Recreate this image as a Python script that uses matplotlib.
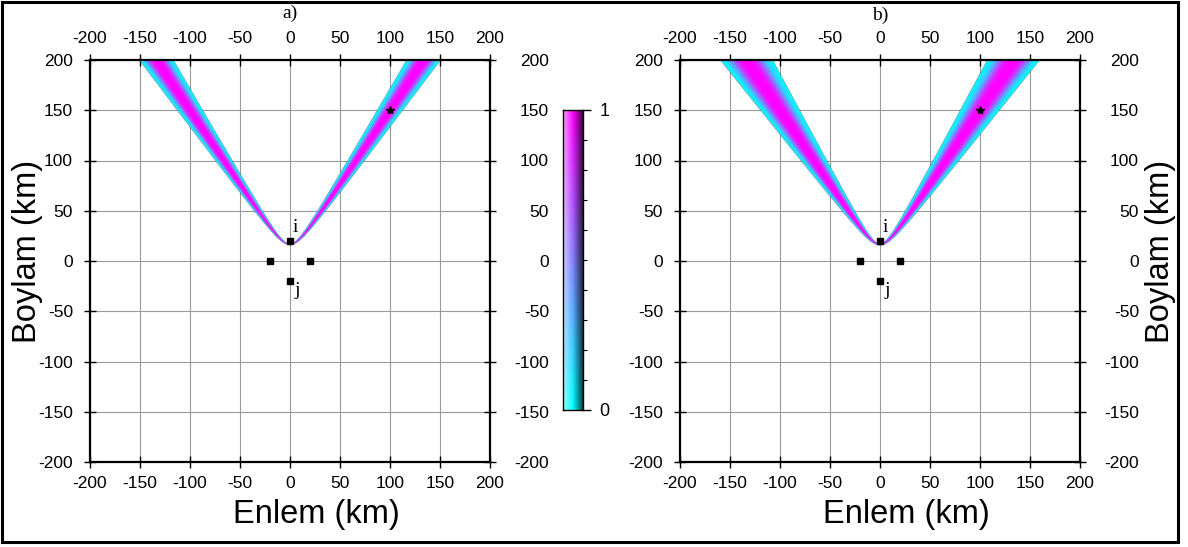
import numpy as np
import matplotlib
matplotlib.use("Agg")
import matplotlib.pyplot as plt
import matplotlib.transforms as mtrans
from matplotlib.colors import LinearSegmentedColormap
from matplotlib.patches import Rectangle

# ---- data ----
stations_x = [0, 0, -20, 20]
stations_y = [20, -20, 0, 0]
station_i = [0, 20]
station_j = [0, -20]
source = [100, 150]
sigma_panels = [0.83, 1.27]        # band width (TDOA misfit scale) for panels a, b
panel_labels = ["a)", "b)"]
ticks = [-200, -150, -100, -50, 0, 50, 100, 150, 200]
cbar_ticks = [0, 1]
xlabel = "Enlem (km)"
ylabel = "Boylam (km)"

W, H = 1188, 547
plt.rcParams['font.family'] = ['Liberation Sans', 'DejaVu Sans']
plt.rcParams['axes.unicode_minus'] = False
fig = plt.figure(figsize=(W / 100, H / 100), dpi=100)

cmap = LinearSegmentedColormap.from_list(
    "cb", [(0.0, (0.0, 1.0, 1.0)), (0.5, (0.52, 0.5, 1.0)), (1.0, (1.0, 0.0, 1.0))])

g = np.linspace(-200, 200, 801)
X, Y = np.meshgrid(g, g)
di = np.hypot(X - station_i[0], Y - station_i[1])
dj = np.hypot(X - station_j[0], Y - station_j[1])
d0 = np.hypot(source[0] - station_j[0], source[1] - station_j[1]) - \
     np.hypot(source[0] - station_i[0], source[1] - station_i[1])
delta = (dj - di) - d0


def px2fx(x):
    return x / W


def px2fy(y):
    return 1 - y / H


def setup_axes(ax):
    ax.set_xlim(-200, 200)
    ax.set_ylim(-200, 200)
    ax.set_xticks(ticks)
    ax.set_yticks(ticks)
    ax.grid(True, color="#9a9a9a", lw=0.8, zorder=0)
    ax.set_axisbelow(True)
    for sp in ax.spines.values():
        sp.set_linewidth(1.6)
        sp.set_zorder(5)
    ax.tick_params(direction="inout", length=8.5, width=1.0, labelsize=12.5,
                   top=True, right=True, labeltop=True, labelright=True,
                   pad=6)
    ax.tick_params(axis="y", which="both", pad=8)


axes_left = [90, 680]
for k, left in enumerate(axes_left):
    ax = fig.add_axes([px2fx(left), px2fy(462), 400 / W, 402 / H])
    setup_axes(ax)
    val = np.exp(-np.abs(delta / sigma_panels[k]) ** 3)
    val = np.ma.masked_less(val, 0.02)
    ax.imshow(val, extent=[-200, 200, -200, 200], origin="lower", cmap=cmap,
              vmin=0, vmax=1, interpolation="bilinear", zorder=2, aspect="auto")
    ax.plot(stations_x, stations_y, "s", color="black", ms=5, zorder=6)
    ax.plot([source[0]], [source[1]], "*", color="black", ms=6, zorder=6)
    ax.text(3, 33, "i", family="Liberation Serif", fontsize=14, ha="left", va="center", zorder=7)
    ax.text(4, -29, "j", family="Liberation Serif", fontsize=14, ha="left", va="center", zorder=7)
    off = mtrans.ScaledTranslation(42 / 100, 0, fig.dpi_scale_trans)
    for t in ax.yaxis.get_major_ticks():
        t.label2.set_horizontalalignment("right")
        t.label2.set_transform(t.label2.get_transform() + off)
    fig.text(px2fx(left + 200), px2fy(13 if k == 0 else 15), panel_labels[k],
             family="Liberation Serif", fontsize=14, ha="center", va="center")
    fig.text(px2fx(left + 226), px2fy(515), xlabel, fontsize=23.5, ha="center", va="center")

fig.text(px2fx(28), px2fy(251), ylabel, fontsize=23.5, rotation=90, ha="center", va="center")
fig.text(px2fx(1160), px2fy(251), ylabel, fontsize=23.5, rotation=90, ha="center", va="center")

# colorbar with 3D-like shading
cax = fig.add_axes([px2fx(563), px2fy(410), 20 / W, 300 / H])
v = np.linspace(0, 1, 256)[:, None]
u = np.linspace(0, 1, 24)[None, :]
base = cmap(np.repeat(v, 24, axis=1))[..., :3]
s = (0.5 - u)[..., None] * np.ones_like(base)
img = np.where(s > 0, base + (1 - base) * s * 1.2, base * (1 + s * 1.4))
img = np.clip(img, 0, 1)
cax.imshow(img, extent=[0, 1, 0, 1], origin="lower", aspect="auto")
cax.set_xlim(0, 1)
cax.set_ylim(0, 1)
cax.set_xticks([])
cax.yaxis.tick_right()
cax.set_yticks(cbar_ticks)
cax.set_yticklabels([str(t) for t in cbar_ticks])
cax.set_yticks(np.arange(0.1, 1.0, 0.1), minor=True)
cax.tick_params(axis="y", which="major", length=6, width=1, labelsize=13, pad=6)
cax.tick_params(axis="y", which="minor", length=3, width=0.8)
for sp in cax.spines.values():
    sp.set_linewidth(1.0)

# figure border
fig.add_artist(Rectangle((px2fx(2), px2fy(542)), px2fx(1176), 540 / H,
                         transform=fig.transFigure, fill=False, lw=2.2, ec="black"))

fig.savefig("out.png", dpi=100)
